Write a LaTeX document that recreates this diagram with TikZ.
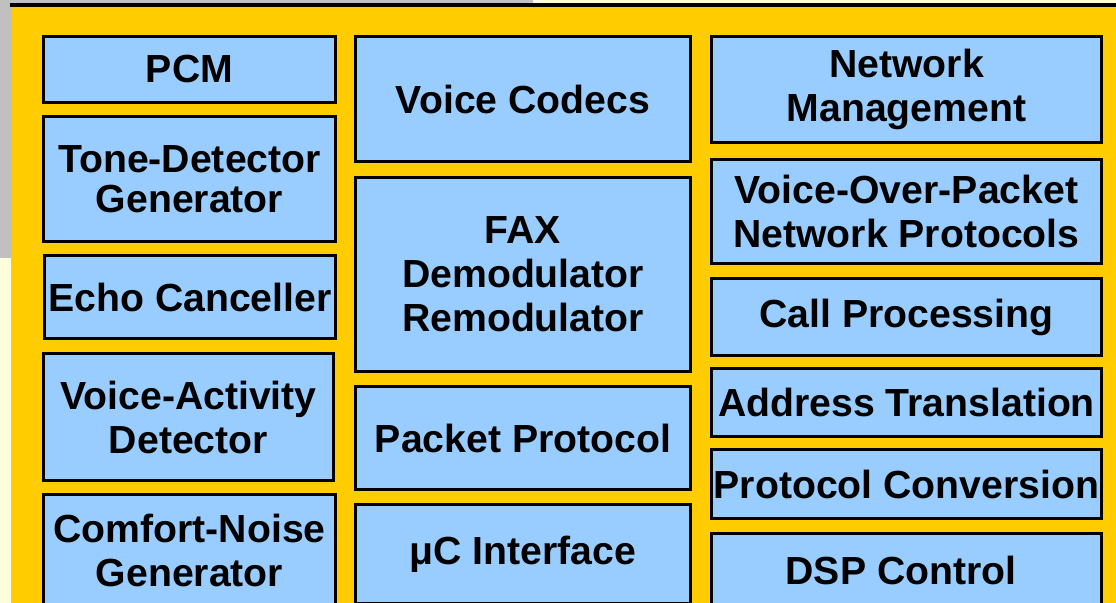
\documentclass[tikz,border=0pt]{standalone}
\usepackage{fontspec}
\setmainfont{Liberation Sans}
\definecolor{panel}{HTML}{FFCC00}
\definecolor{boxblue}{HTML}{99CCFF}
\definecolor{scrgray}{HTML}{C0C0C0}
\definecolor{scrcream}{HTML}{FFFFDD}
\tikzset{blk/.style={draw,line width=1.5pt,fill=boxblue,inner sep=0pt,
    align=center,font=\bfseries\fontsize{19.6pt}{22pt}\selectfont}}
\begin{document}
\begin{tikzpicture}[x=0.5pt,y=-0.5pt]
      \clip (0,0) rectangle (1116,603);
      % screen behind the slide
      \fill[scrcream] (0,0) rectangle (1116,603);
      \fill[scrgray] (0,0) rectangle (533,3.5) (0,0) rectangle (11,258);
      \fill[panel] (11,5) rectangle (1116,603);
      \draw[line width=1.7pt] (10,5) -- (1116,5);
      % blocks: name/left/top/right/bottom/text
      \foreach \nm/\xa/\ya/\xb/\yb/\txt in {
        pcm/42/35/337/104/{PCM},
        tone/42/115/337/243/{Tone-Detector\\[-2pt]Generator},
        echo/43/254/337/340/{Echo Canceller},
        vad/42/352/335/482/{Voice-Activity\\Detector},
        cng/42/493/337/607/{Comfort-Noise\\Generator}, %left
        codec/354/35/692/163/{Voice Codecs},
        fax/354/176/692/373/{FAX\\Demodulator\\Remodulator},
        pkt/354/385/692/491/{Packet Protocol},
        uc/354/503/692/605/{μC Interface}, %middle
        netm/710/35/1103/144/{Network\\Management},
        vop/710/158/1103/265/{Voice-Over-Packet\\Network Protocols},
        call/710/277/1103/357/{Call Processing},
        addr/710/367/1103/438/{Address Translation},
        conv/710/448/1103/520/{Protocol Conversion},
        dsp/710/532/1103/608/{DSP Control}
      }
        \node[blk,minimum width={(\xb-\xa)*0.5pt-1.5pt},
              minimum height={(\yb-\ya)*0.5pt-1.5pt}]
          (\nm) at ({(\xa+\xb)/2},{(\ya+\yb)/2}) {\txt};
\end{tikzpicture}
\end{document}
